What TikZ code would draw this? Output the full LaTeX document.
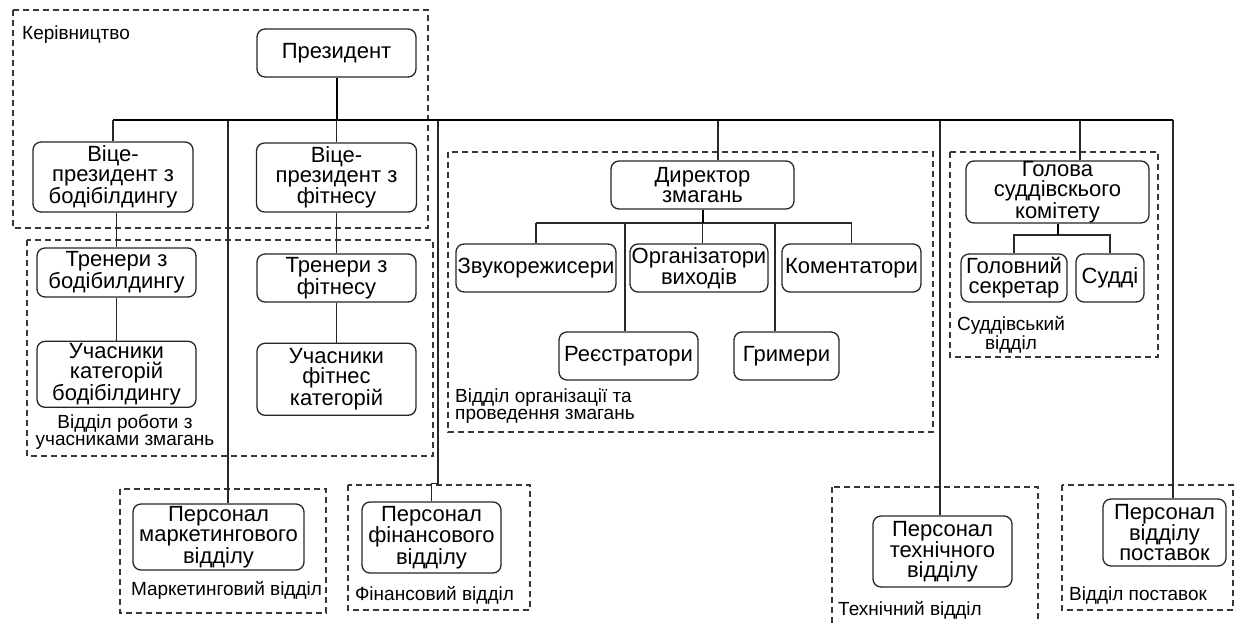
\documentclass[tikz,border=0pt]{standalone}
\usepackage{fontspec}
\setmainfont{Liberation Sans}
\usepackage{tikz}
\usetikzlibrary{positioning}
\definecolor{OrgLine}{RGB}{40,40,40}
\definecolor{OrgDash}{RGB}{55,55,55}
\tikzset{
	unit/.style={draw=black!85, line width=1.3pt, rounded corners=8pt, fill=white,
		align=center, inner sep=0pt, font=\fontsize{22}{20}\selectfont},
	sz/.style 2 args={minimum width=#1pt, minimum height=#2pt},
	grp/.style={draw=OrgDash, line width=1.2pt, dash pattern=on 6pt off 4pt},
	trunk/.style={draw=black, line width=2pt},
	branch/.style={draw=OrgLine, line width=1.3pt},
	lab/.style={inner sep=0pt, font=\fontsize{19}{17.5}\selectfont}
}

\begin{document}
\begin{tikzpicture}[x=1pt, y=-1pt]
	\useasboundingbox (0,0) rectangle (1237,622);
	% departments
	\draw[grp] (13,10) rectangle (428,228);
	\draw[grp] (27,240) rectangle (433,456);
	\draw[grp] (448,152) rectangle (933,432);
	\draw[grp] (950,152) rectangle (1158,357);
	\draw[grp] (120,489) rectangle (326,613);
	\draw[grp] (348,485) rectangle (530,610);
	\draw[grp] (832,487) rectangle (1038,640);
	\draw[grp] (1062,485) rectangle (1233,610);

	\node[lab, anchor=base west] (lkeriv) at (22,39) {Керівництво};
	\node[lab, align=center] (lpart) at (125,432) {Відділ роботи з\\учасниками змагань};
	\node[lab, align=left, anchor=west] (lorg) at (455,406) {Відділ організації та\\проведення змагань};
	\node[lab, align=center] (ljud) at (1011,335) {Суддівський\\відділ};
	\node[lab, anchor=base] (lmkt) at (226.5,595) {Маркетинговий відділ};
	\node[lab, anchor=base] (lfin) at (434.5,600) {Фінансовий відділ};
	\node[lab, anchor=base] (ltech) at (910,615) {Технічний відділ};
	\node[lab, anchor=base] (lsup) at (1138,600) {Відділ поставок};

	% units
	\node[unit, sz={159}{48}] (pres) at (336.5,53) {Президент};
	\node[unit, sz={160}{70}] (vpbb) at (113,177) {Віце-\\президент з\\бодібілдингу};
	\node[unit, sz={160}{69}] (vpf) at (336.5,177.5) {Віце-\\президент з\\фітнесу};
	\node[unit, sz={159}{49}] (trbb) at (116.5,272.5) {Тренери з\\бодібилдингу};
	\node[unit, sz={159}{66}, below=43pt of trbb] (ucbb) {Учасники\\категорій\\бодібілдингу};
	\node[unit, sz={159}{48}] (trf) at (336.5,278) {Тренери з\\фітнесу};
	\node[unit, sz={159}{72}, below=40pt of trf] (ucf) {Учасники\\фітнес\\категорій};
	\node[unit, sz={183}{48}] (dir) at (702.5,185) {Директор\\змагань};
	\node[unit, sz={160}{48}] (snd) at (536,268) {Звукорежисери};
	\node[unit, sz={138}{48}] (org) at (699,268) {Організатори\\виходів};
	\node[unit, sz={139}{48}] (com) at (851.5,268) {Коментатори};
	\node[unit, sz={139}{48}] (reg) at (628.5,356) {Реєстратори};
	\node[unit, sz={105}{48}] (grim) at (786.5,356) {Гримери};
	\node[unit, sz={183}{62}] (head) at (1057.5,192) {Голова\\суддівскього\\комітету};
	\node[unit, sz={106}{48}] (sec) at (1014,278) {Головний\\секретар};
	\node[unit, sz={68}{48}] (jud) at (1110,278) {Судді};
	\node[unit, sz={171}{66}] (mkt) at (218.5,537) {Персонал\\маркетингового\\відділу};
	\node[unit, sz={139}{71}] (fin) at (431.5,537.5) {Персонал\\фінансового\\відділу};
	\node[unit, sz={139}{71}] (tech) at (942.5,551.5) {Персонал\\технічного\\відділу};
	\node[unit, sz={123}{67}] (sup) at (1164.5,532.5) {Персонал\\відділу\\поставок};

	% top level
	\coordinate (bus) at (0,120);
	\coordinate (bA) at (113,120);
	\coordinate (bM) at (228,120);
	\coordinate (bF) at (438,120);
	\coordinate (bD) at (718,120);
	\coordinate (bT) at (940,120);
	\coordinate (bJ) at (1080,120);
	\coordinate (bR) at (1173,120);
	\draw[branch] (bA) -- (vpbb.north);
	\draw[branch] (bM) -- (bM |- mkt.north);
	\draw[branch] (pres.south |- bus) -- (vpf.north);
	\draw[branch] (bF) |- ([yshift=18pt]fin.north) -- (fin.north);
	\draw[branch] (bD) -- (bD |- dir.north);
	\draw[branch] (bT) -- (bT |- tech.north);
	\draw[branch] (bJ) -- (bJ |- head.north);
	\draw[branch] (bR) -- (bR |- sup.north);
	\draw[trunk] (pres.south) -- (pres.south |- bus);
	\draw[trunk] (bA) -- (bR);

	% participants
	\draw[branch] (vpbb.south -| trbb.north) -- (trbb.north);
	\draw[branch] (trbb) -- (ucbb);
	\draw[branch] (vpf) -- (trf) -- (ucf);

	% competition
	\coordinate (dbus) at (0,223);
	\coordinate (dR) at (625,223);
	\coordinate (dG) at (775,223);
	\draw[branch] (snd.north |- dbus) -- (com.north |- dbus);
	\draw[branch] (snd.north |- dbus) -- (snd.north);
	\draw[branch] (com.north |- dbus) -- (com.north);
	\draw[branch] (dir.south |- dbus) -- (dir.south |- org.north);
	\draw[branch] (dR) -- (dR |- reg.north);
	\draw[branch] (dG) -- (dG |- grim.north);
	\draw[trunk] (dir.south) -- (dir.south |- dbus);

	% judges
	\coordinate (jbus) at (0,235);
	\draw[branch] (sec.north) -- (sec.north |- jbus) -- (jud.north |- jbus) -- (jud.north);
	\draw[trunk] (head.south) -- (head.south |- jbus);
\end{tikzpicture}
\end{document}
